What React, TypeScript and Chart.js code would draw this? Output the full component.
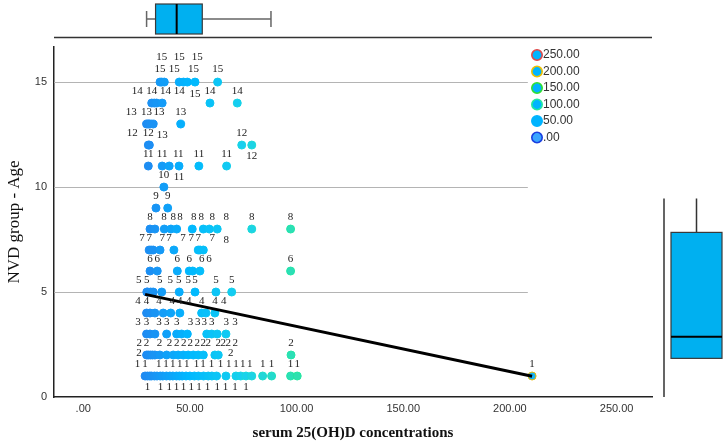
import { useEffect, useRef } from 'react';
import { Chart, registerables } from 'chart.js';

Chart.register(...registerables);

// serum 25(OH)D values observed at each age of the NVD group
const SERUM_AGE_1 = [29.0, 30.1, 31.2, 32.0, 33.4, 34.6, 36.1, 37.3, 39.0, 40.6, 42.0, 43.7, 45.1, 46.4, 48.2, 50.0, 52.1, 54.0, 56.4, 58.6, 60.3, 62.5, 66.9, 71.6, 73.8, 76.3, 79.0, 84.1, 88.3, 97.2, 100.3, 210.4];
const SERUM_AGE_2 = [29.7, 30.5, 31.5, 32.5, 33.6, 35.9, 39.1, 42.2, 44.5, 46.9, 49.2, 51.6, 53.9, 56.3, 61.7, 63.3, 97.4];
const SERUM_AGE_3 = [29.7, 31.3, 33.6, 39.1, 43.8, 46.1, 48.8, 57.9, 60.2, 62.8, 66.9];
const SERUM_AGE_4 = [29.7, 31.3, 33.6, 37.5, 41.0, 45.3, 55.5, 57.5, 61.7];
const SERUM_AGE_5 = [29.8, 30.2, 31.6, 32.8, 36.8, 45.0, 52.4, 62.2, 69.6];
const SERUM_AGE_6 = [31.3, 34.7, 44.1, 49.7, 51.3, 54.7, 97.2];
const SERUM_AGE_7 = [30.9, 31.8, 32.8, 36.0, 42.5, 53.9, 54.8, 56.3];
const SERUM_AGE_8 = [31.3, 33.6, 38.0, 41.1, 43.8, 51.1, 56.3, 59.1, 62.8, 79.0, 97.2];
const SERUM_AGE_9 = [34.1, 39.6];
const SERUM_AGE_10 = [37.8];
const SERUM_AGE_11 = [30.5, 37.0, 40.3, 44.9, 54.2, 67.2];
const SERUM_AGE_12 = [30.5, 31.0, 74.3, 79.0];
const SERUM_AGE_13 = [29.7, 30.5, 31.3, 32.8, 45.7];
const SERUM_AGE_14 = [32.1, 33.3, 34.4, 37.0, 59.4, 72.2];
const SERUM_AGE_15 = [36.0, 36.8, 38.0, 45.0, 47.0, 48.8, 52.4, 63.0];

const SERUM_BY_AGE = [
  SERUM_AGE_1, SERUM_AGE_2, SERUM_AGE_3, SERUM_AGE_4, SERUM_AGE_5,
  SERUM_AGE_6, SERUM_AGE_7, SERUM_AGE_8, SERUM_AGE_9, SERUM_AGE_10,
  SERUM_AGE_11, SERUM_AGE_12, SERUM_AGE_13, SERUM_AGE_14, SERUM_AGE_15,
];

// linear fit line (age on serum)
const FIT_INTERCEPT = 5.51;
const FIT_SLOPE = -0.0215;

// marginal box plots: [lower whisker, Q1, median, Q3, upper whisker]
const SERUM_BOX = [29.7, 33.9, 43.8, 55.8, 88.0];
const AGE_BOX = [1.84, 1.84, 2.87, 7.84, 9.46];

const X_TICKS = [0, 50, 100, 150, 200, 250];
const Y_TICKS = [0, 5, 10, 15];
const LEGEND_VALUES = [250, 200, 150, 100, 50, 0];

const X_MIN = -13.7;
const X_MAX = 266.6;
const Y_MAX = 16.67;

const fmt2 = (v: number) => (v === 0 ? '.00' : v.toFixed(2));

type Stop = [number, [number, number, number]];
const FILL_STOPS: Stop[] = [
  [0, [42, 108, 240]], [30, [30, 140, 242]], [50, [0, 184, 255]], [75, [24, 208, 240]],
  [100, [46, 224, 176]], [150, [40, 200, 240]], [250, [16, 168, 248]],
];
const BORDER_STOPS: Stop[] = [
  [0, [26, 63, 224]], [30, [30, 140, 242]], [50, [0, 184, 255]], [75, [24, 216, 224]],
  [100, [34, 232, 160]], [150, [48, 224, 48]], [200, [240, 192, 0]], [250, [224, 72, 72]],
];

function ramp(stops: Stop[], v: number) {
  if (v <= stops[0][0]) return `rgb(${stops[0][1].join(',')})`;
  for (let i = 1; i < stops.length; i++) {
    const [v1, c1] = stops[i];
    const [v0, c0] = stops[i - 1];
    if (v <= v1) {
      const t = (v - v0) / (v1 - v0);
      const c = c0.map((a, k) => Math.round(a + (c1[k] - a) * t));
      return `rgb(${c.join(',')})`;
    }
  }
  return `rgb(${stops[stops.length - 1][1].join(',')})`;
}

// candidate label spots around a marker (dx, dy in px), tried in order
const LABEL_SPOTS = [
  [0, -12], [0, 11], [-9, -12], [9, -12], [-9, 11], [9, 11],
  [-17, -12], [17, -12], [-17, 11], [17, 11], [-16, -2], [16, -2],
  [-25, -12], [25, -12], [-25, 11], [25, 11],
];
const TOP_ROW_SPOTS = [[0, -13], [0, -25], [-10, -13], [10, -13], [-10, -25], [10, -25], [0, 12]];

type Pt = { x: number; y: number; k: number };

const points: Pt[] = [];
SERUM_BY_AGE.forEach((row, i) => row.forEach((x, k) => points.push({ x, y: i + 1, k })));
const allX = points.map((p) => p.x);
const fitMin = Math.min(...allX);
const fitMax = Math.max(...allX);
const fitLine = [
  { x: fitMin, y: FIT_INTERCEPT + FIT_SLOPE * fitMin },
  { x: fitMax, y: FIT_INTERCEPT + FIT_SLOPE * fitMax },
];

type Box = { x0: number; y0: number; x1: number; y1: number };
const overlap = (a: Box, b: Box) =>
  Math.max(0, Math.min(a.x1, b.x1) - Math.max(a.x0, b.x0)) *
  Math.max(0, Math.min(a.y1, b.y1) - Math.max(a.y0, b.y0));

const decor = {
  id: 'decor',
  beforeDatasetsDraw(chart: any) {
    const { ctx, scales } = chart;
    const xs = scales.x;
    const ys = scales.y;
    ctx.save();
    ctx.strokeStyle = '#b4b4b4';
    ctx.lineWidth = 1;
    const xEnd = xs.getPixelForValue(fitMax - 2);
    Y_TICKS.filter((t) => t > 0).forEach((t) => {
      const py = Math.round(ys.getPixelForValue(t)) + 0.5;
      ctx.beginPath();
      ctx.moveTo(chart.chartArea.left, py);
      ctx.lineTo(xEnd, py);
      ctx.stroke();
    });
    ctx.restore();
  },
  afterDatasetsDraw(chart: any) {
    const { ctx, scales, chartArea } = chart;
    const xs = scales.x;
    const ys = scales.y;
    ctx.save();

    // value labels beside every marker, placed greedily to avoid collisions
    const meta = chart.getDatasetMeta(1);
    const data = chart.data.datasets[1].data as Pt[];
    const topAge = SERUM_BY_AGE.length;
    const markers: Box[] = meta.data.map((el: any) => ({ x0: el.x - 4, y0: el.y - 4, x1: el.x + 4, y1: el.y + 4 }));
    ctx.font = '11px "Liberation Serif"';
    ctx.fillStyle = '#222';
    ctx.textAlign = 'center';
    ctx.textBaseline = 'middle';
    const placed: Box[] = [];
    meta.data.forEach((el: any, i: number) => {
      const d = data[i];
      const text = String(d.y);
      const w = ctx.measureText(text).width;
      const h = 8;
      const spots = d.y === topAge ? TOP_ROW_SPOTS : LABEL_SPOTS;
      let best: Box | null = null;
      let bestCost = Infinity;
      for (const [dx, dy] of spots) {
        const cx = el.x + dx;
        const cy = el.y + dy;
        const b = { x0: cx - w / 2 - 0.5, y0: cy - h / 2, x1: cx + w / 2 + 0.5, y1: cy + h / 2 };
        const cost =
          placed.reduce((s, p) => s + overlap(b, p), 0) +
          0.5 * markers.reduce((s, m) => s + overlap(b, m), 0);
        if (cost < bestCost) { bestCost = cost; best = b; }
        if (cost === 0) break;
      }
      if (!best) return;
      placed.push(best);
      ctx.fillText(text, (best.x0 + best.x1) / 2, (best.y0 + best.y1) / 2);
    });

    // top marginal box plot (serum)
    const [lo, q1, med, q3, hi] = SERUM_BOX.map((v) => xs.getPixelForValue(v));
    const yc = 19;
    ctx.strokeStyle = '#666';
    ctx.lineWidth = 1.5;
    ctx.beginPath();
    ctx.moveTo(lo, yc); ctx.lineTo(q1, yc);
    ctx.moveTo(q3, yc); ctx.lineTo(hi, yc);
    ctx.moveTo(lo, 11); ctx.lineTo(lo, 27);
    ctx.moveTo(hi, 11); ctx.lineTo(hi, 27);
    ctx.stroke();
    ctx.fillStyle = '#00b0f0';
    ctx.fillRect(q1, 4, q3 - q1, 30);
    ctx.strokeStyle = '#3a3a3a';
    ctx.lineWidth = 1.2;
    ctx.strokeRect(q1, 4, q3 - q1, 30);
    ctx.strokeStyle = '#000';
    ctx.lineWidth = 2;
    ctx.beginPath();
    ctx.moveTo(med, 4); ctx.lineTo(med, 34);
    ctx.stroke();
    ctx.strokeStyle = '#333';
    ctx.lineWidth = 1.5;
    ctx.beginPath();
    ctx.moveTo(chartArea.left, 37.5); ctx.lineTo(chartArea.right, 37.5);
    ctx.stroke();

    // right marginal box plot (age)
    const [alo, aq1, amed, aq3, ahi] = AGE_BOX.map((v) => ys.getPixelForValue(v));
    const bx0 = 671;
    const bx1 = 722;
    const bxc = (bx0 + bx1) / 2;
    ctx.strokeStyle = '#333';
    ctx.lineWidth = 1.5;
    ctx.beginPath();
    ctx.moveTo(664, ahi); ctx.lineTo(664, chartArea.bottom);
    ctx.moveTo(bxc, ahi); ctx.lineTo(bxc, aq3);
    ctx.moveTo(bxc, aq1); ctx.lineTo(bxc, alo);
    ctx.stroke();
    ctx.fillStyle = '#00b0f0';
    ctx.fillRect(bx0, aq3, bx1 - bx0, aq1 - aq3);
    ctx.strokeStyle = '#3a3a3a';
    ctx.lineWidth = 1.2;
    ctx.strokeRect(bx0, aq3, bx1 - bx0, aq1 - aq3);
    ctx.strokeStyle = '#000';
    ctx.lineWidth = 2;
    ctx.beginPath();
    ctx.moveTo(bx0, amed); ctx.lineTo(bx1, amed);
    ctx.stroke();

    // colour legend
    ctx.font = '12px "Liberation Sans"';
    ctx.textAlign = 'left';
    ctx.textBaseline = 'middle';
    LEGEND_VALUES.forEach((v, i) => {
      const cy = 55 + i * 16.5;
      ctx.beginPath();
      ctx.arc(537, cy, 5.2, 0, Math.PI * 2);
      ctx.fillStyle = v === 0 ? '#3aa6ff' : '#00b4ff';
      ctx.fill();
      ctx.lineWidth = 1.6;
      ctx.strokeStyle = v === 50 ? '#00b4ff' : ramp(BORDER_STOPS, v);
      ctx.stroke();
      ctx.fillStyle = '#333';
      ctx.fillText(fmt2(v), 543, cy);
    });
    ctx.restore();
  },
};

export default function App() {
  const ref = useRef<HTMLCanvasElement>(null);

  useEffect(() => {
    if (!ref.current) return;
    const chart = new Chart(ref.current, {
      type: 'scatter',
      data: {
        datasets: [
          {
            type: 'line',
            data: fitLine,
            borderColor: '#000',
            borderWidth: 3,
            pointRadius: 0,
            fill: false,
          } as any,
          {
            data: points,
            pointRadius: 4,
            pointBorderWidth: 1,
            pointBackgroundColor: (c: any) => ramp(FILL_STOPS, c.raw ? c.raw.x : 0),
            pointBorderColor: (c: any) =>
              c.raw && c.raw.x > 150 ? '#f0b800' : ramp(BORDER_STOPS, c.raw ? c.raw.x : 0),
          },
        ],
      },
      options: {
        responsive: false,
        animation: false,
        events: [],
        layout: { padding: { top: 47, right: 75, left: 0, bottom: 0 } },
        plugins: { legend: { display: false }, tooltip: { enabled: false } },
        scales: {
          x: {
            type: 'linear',
            min: X_MIN,
            max: X_MAX,
            afterFit: (s: any) => { s.height = 47; },
            afterBuildTicks: (s: any) => { s.ticks = X_TICKS.map((value) => ({ value })); },
            ticks: {
              callback: (v: any) => fmt2(Number(v)),
              font: { family: '"Liberation Sans"', size: 11 },
              color: '#333',
              padding: 5,
              maxRotation: 0,
              autoSkip: false,
            },
            grid: { display: false, drawTicks: false },
            border: { display: true, color: '#222', width: 1.5 },
            title: {
              display: true,
              text: 'serum 25(OH)D concentrations',
              font: { family: '"Liberation Serif"', size: 15, weight: 'bold' },
              color: '#111',
              padding: { top: 0, bottom: 2 },
            },
          },
          y: {
            type: 'linear',
            min: 0,
            max: Y_MAX,
            afterFit: (s: any) => { s.width = 54; },
            afterBuildTicks: (s: any) => { s.ticks = Y_TICKS.map((value) => ({ value })); },
            ticks: {
              callback: (v: any) => String(v),
              font: { family: '"Liberation Sans"', size: 11 },
              color: '#333',
              padding: 7,
            },
            grid: { display: false, drawTicks: false },
            border: { display: true, color: '#222', width: 1.5 },
            title: {
              display: true,
              text: 'NVD group - Age',
              font: { family: '"Liberation Serif"', size: 17 },
              color: '#111',
              padding: { top: 4, bottom: 0 },
            },
          },
        },
      },
      plugins: [decor],
    });
    return () => chart.destroy();
  }, []);

  return (
    <div style={{ position: 'fixed', left: 0, top: 0, width: 727, height: 444, background: '#fff' }}>
      <canvas ref={ref} width={727} height={444} style={{ display: 'block' }} />
    </div>
  );
}
